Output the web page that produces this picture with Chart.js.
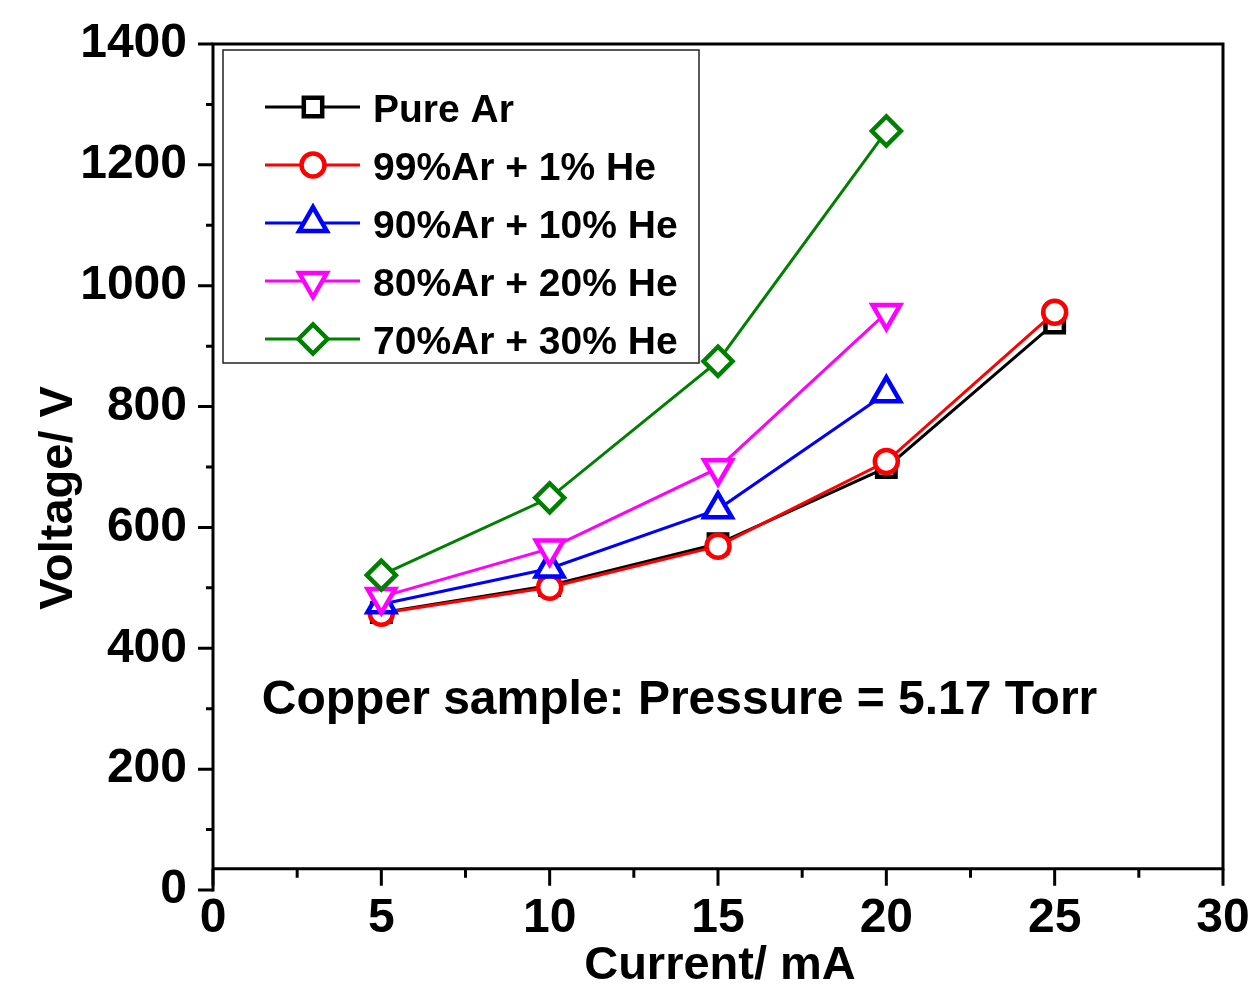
<!DOCTYPE html>
<html>
<head>
<meta charset="utf-8">
<script src="https://cdn.jsdelivr.net/npm/chart.js@4.4.1/dist/chart.umd.min.js"></script>
<style>
  body { margin: 0; background: #fff; }
  canvas { display: block; }
</style>
</head>
<body>
<canvas id="chart" width="1253" height="989"></canvas>
<script>
// current values (mA)
const currents = [5, 10, 15, 20, 25];

// discharge voltage (V) for each gas mixture
const pureAr = [459, 504, 573, 699, 938];
const ar99He1 = [458, 501, 569, 709, 956];
const ar90He10 = [473, 532, 630, 822];
const ar80He20 = [485, 565, 698, 955];
const ar70He30 = [521, 649, 875, 1256];

const seriesNames = ["Pure Ar", "99%Ar + 1% He", "90%Ar + 10% He", "80%Ar + 20% He", "70%Ar + 30% He"];
const seriesValues = [pureAr, ar99He1, ar90He10, ar80He20, ar70He30];
const seriesColors = ["#000000", "#ff0000", "#0000ff", "#ff00ff", "#008000"];
const markerStyles = ["rect", "circle", "triangle", "triangle", "rectRot"];
const markerRotations = [0, 0, 0, 180, 0];
const markerSizes = [13, 11.5, 16, 16, 14.5];

// axis ticks
const xMin = 0, xMax = 30, xMajor = 5, xMinor = 2.5;
const yMin = 0, yMax = 1400, yMajor = 200, yMinor = 100;
const xAxisCrossAt = 35; // the bottom axis sits a little above 0 V

const annotationText = "Copper sample: Pressure = 5.17 Torr";
const annotationPos = { x: 1.45, y: 292 };

const FONT = "'Liberation Sans', Arial, sans-serif";

const datasets = seriesValues.map((vals, i) => ({
  label: seriesNames[i],
  data: vals.map((v, j) => ({ x: currents[j], y: v })),
  borderColor: seriesColors[i],
  backgroundColor: "#ffffff",
  borderWidth: 3,
  pointStyle: markerStyles[i],
  pointRotation: markerRotations[i],
  pointRadius: markerSizes[i],
  pointBorderWidth: 4.5,
  pointBackgroundColor: "#ffffff",
  pointBorderColor: seriesColors[i],
  tension: 0,
  order: seriesNames.length - i, // later series on top
}));

// frame, ticks, titles, legend and note
const decorPlugin = {
  id: "decor",
  afterDraw(chart) {
    const ctx = chart.ctx;
    const xs = chart.scales.x;
    const ys = chart.scales.y;
    const area = chart.chartArea;
    const top = ys.getPixelForValue(yMax);
    const bottom = ys.getPixelForValue(yMin);
    const axisY = ys.getPixelForValue(xAxisCrossAt);

    ctx.save();
    ctx.strokeStyle = "#000";
    ctx.lineWidth = 3;
    ctx.lineCap = "square";
    ctx.beginPath();
    // left axis
    ctx.moveTo(area.left, top);
    ctx.lineTo(area.left, bottom);
    // top + right
    ctx.moveTo(area.left, top);
    ctx.lineTo(area.right, top);
    ctx.lineTo(area.right, axisY);
    // bottom axis
    ctx.moveTo(area.left, axisY);
    ctx.lineTo(area.right, axisY);
    ctx.stroke();

    ctx.lineCap = "butt";
    ctx.beginPath();
    for (let v = xMin; v <= xMax + 1e-9; v += xMinor) {
      const px = xs.getPixelForValue(v);
      const len = Math.abs(v % xMajor) < 1e-9 ? 17 : 9;
      ctx.moveTo(px, axisY);
      ctx.lineTo(px, axisY + len);
    }
    for (let v = yMin; v <= yMax + 1e-9; v += yMinor) {
      const py = ys.getPixelForValue(v);
      const len = Math.abs(v % yMajor) < 1e-9 ? 15 : 7;
      ctx.moveTo(area.left, py);
      ctx.lineTo(area.left - len, py);
    }
    ctx.stroke();

    // axis titles
    ctx.fillStyle = "#000";
    ctx.font = "bold 47px " + FONT;
    ctx.textAlign = "center";
    ctx.textBaseline = "alphabetic";
    ctx.fillText("Current/ mA", (area.left + area.right) / 2 + 2, bottom + 89);
    ctx.save();
    ctx.translate(72, (top + bottom) / 2 + 31);
    ctx.rotate(-Math.PI / 2);
    ctx.fillText("Voltage/ V", 0, 0);
    ctx.restore();

    // note
    ctx.font = "bold 48px " + FONT;
    ctx.textAlign = "left";
    ctx.fillText(annotationText, xs.getPixelForValue(annotationPos.x), ys.getPixelForValue(annotationPos.y));

    // legend
    const boxL = area.left + 10, boxT = top + 6, boxW = 476, boxH = 313;
    ctx.lineWidth = 1.5;
    ctx.strokeStyle = "#222";
    ctx.strokeRect(boxL, boxT, boxW, boxH);
    ctx.font = "bold 39px " + FONT;
    datasets.forEach((ds, i) => {
      const rowY = boxT + 57 + i * 58;
      ctx.strokeStyle = ds.borderColor;
      ctx.lineWidth = 3;
      ctx.beginPath();
      ctx.moveTo(boxL + 42, rowY);
      ctx.lineTo(boxL + 137, rowY);
      ctx.stroke();
      ctx.fillStyle = "#ffffff";
      ctx.lineWidth = 4.5;
      Chart.helpers.drawPoint(ctx, {
        pointStyle: ds.pointStyle,
        rotation: ds.pointRotation,
        radius: ds.pointRadius,
        borderWidth: 4.5,
      }, boxL + 90, rowY);
      ctx.fillStyle = "#000";
      ctx.fillText(ds.label, boxL + 150, rowY + 15);
    });
    ctx.restore();
  },
};

function noLabelOverflow(scale) {
  scale.paddingTop = 0;
  scale.paddingBottom = 0;
  scale.paddingLeft = 0;
  scale.paddingRight = 0;
}

const chart = new Chart(document.getElementById("chart"), {
  type: "line",
  data: { datasets: datasets },
  options: {
    responsive: false,
    animation: false,
    layout: { padding: { top: 44, right: 30, left: 0, bottom: 0 } },
    plugins: {
      legend: { display: false },
      tooltip: { enabled: false },
    },
    scales: {
      x: {
        type: "linear",
        min: xMin,
        max: xMax,
        grid: { display: false, drawTicks: false },
        border: { display: false },
        ticks: {
          stepSize: xMajor,
          autoSkip: false,
          maxRotation: 0,
          color: "#000",
          padding: 0,
          font: { family: FONT, size: 48, weight: "bold" },
          callback: (v) => String(v),
        },
        afterFit(scale) { scale.height = 99; noLabelOverflow(scale); },
      },
      y: {
        min: yMin,
        max: yMax,
        grid: { display: false, drawTicks: false },
        border: { display: false },
        ticks: {
          stepSize: yMajor,
          autoSkip: false,
          color: "#000",
          padding: 26,
          font: { family: FONT, size: 48, weight: "bold" },
          callback: (v) => String(v),
        },
        afterFit(scale) { scale.width = 213; noLabelOverflow(scale); },
      },
    },
  },
  plugins: [decorPlugin],
});
</script>
</body>
</html>
